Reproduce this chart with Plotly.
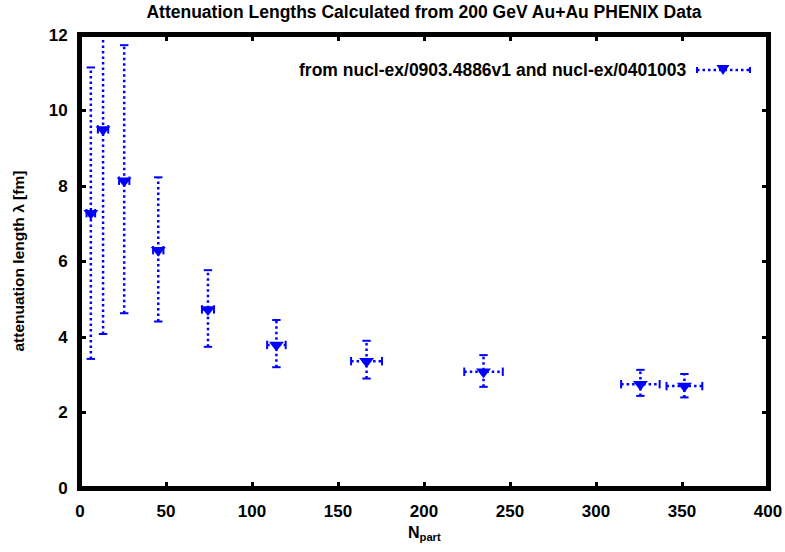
import plotly.graph_objects as go

# Data
npart = [6.3, 13.4, 25.7, 45.5, 74.4, 114.2, 166.6, 234.6, 325.8, 351.4]
npart_err = [2.5, 3.0, 3.0, 3.0, 3.5, 5.4, 9.0, 11.2, 11.2, 10.4]
lam = [7.28, 9.50, 8.14, 6.30, 4.73, 3.79, 3.36, 3.08, 2.75, 2.70]
lam_err_hi = [3.86, 5.42, 3.59, 1.93, 1.04, 0.66, 0.54, 0.44, 0.38, 0.32]
lam_err_lo = [3.86, 5.42, 3.51, 1.89, 0.99, 0.59, 0.46, 0.40, 0.31, 0.30]

legend_label = "from nucl-ex/0903.4886v1 and nucl-ex/0401003"
title_text = "Attenuation Lengths Calculated from 200 GeV Au+Au PHENIX Data"
x_ticks = [0, 50, 100, 150, 200, 250, 300, 350, 400]
y_ticks = [0, 2, 4, 6, 8, 10, 12]

BLUE = "#0000ff"
FONT = "Liberation Sans"

# Build dotted error-bar segments from the arrays
vx, vy, hx, hy = [], [], [], []
cap_v_x, cap_v_y, cap_h_x, cap_h_y = [], [], [], []
for x, dx, y, hi, lo in zip(npart, npart_err, lam, lam_err_hi, lam_err_lo):
    vx += [x, x, None]
    vy += [y - lo, y + hi, None]
    hx += [x - dx, x + dx, None]
    hy += [y, y, None]
    cap_v_x += [x, x]
    cap_v_y += [y - lo, y + hi]
    cap_h_x += [x - dx, x + dx]
    cap_h_y += [y, y]

dot = "2.5px,3px"
fig = go.Figure()
fig.add_trace(go.Scatter(x=vx, y=vy, mode="lines", line=dict(color=BLUE, width=2.5, dash=dot),
                         showlegend=False, hoverinfo="skip"))
fig.add_trace(go.Scatter(x=hx, y=hy, mode="lines", line=dict(color=BLUE, width=2.5, dash=dot),
                         showlegend=False, hoverinfo="skip"))
fig.add_trace(go.Scatter(x=cap_v_x, y=cap_v_y, mode="markers", cliponaxis=True,
                         marker=dict(symbol="line-ew", size=6, line=dict(color=BLUE, width=2)),
                         showlegend=False, hoverinfo="skip"))
fig.add_trace(go.Scatter(x=cap_h_x, y=cap_h_y, mode="markers", cliponaxis=True,
                         marker=dict(symbol="line-ns", size=6, line=dict(color=BLUE, width=2)),
                         showlegend=False, hoverinfo="skip"))
fig.add_trace(go.Scatter(x=npart, y=lam, mode="markers", name=legend_label,
                         marker=dict(symbol="triangle-down", size=13, color=BLUE,
                                     line=dict(width=0)),
                         showlegend=False))

W, H = 785, 552
L, R, T, B = 80, 17, 35, 64
pw, ph = W - L - R, H - T - B

def px_x(p):
    return (p - L) / pw

def px_y(p):
    return 1 - (p - T) / ph

axis_common = dict(showline=True, linewidth=3, linecolor="black", mirror="ticks",
                   ticks="inside", ticklen=6, tickwidth=3, tickcolor="black",
                   showgrid=False, zeroline=False, automargin=False,
                   tickfont=dict(family=FONT, size=17, color="black", weight="bold"))

fig.update_layout(
    width=W, height=H,
    margin=dict(l=L, r=R, t=T, b=B),
    plot_bgcolor="white", paper_bgcolor="white",
    xaxis=dict(range=[0, 400], tickvals=x_ticks, ticklabelstandoff=6, **axis_common),
    yaxis=dict(range=[0, 12], tickvals=y_ticks, ticklabelstandoff=6, **axis_common),
    title=dict(text=title_text, x=0.5, xref="paper", y=1 - 12 / H, yref="container",
               yanchor="middle", xanchor="center", automargin=False,
               font=dict(family=FONT, size=17.5, color="black", weight="bold")),
    showlegend=False,
)

# thick frame around the plot area
fig.add_shape(type="rect", xref="paper", yref="paper", x0=0, x1=1, y0=0, y1=1,
              line=dict(color="black", width=4), fillcolor="rgba(0,0,0,0)", layer="above")

# axis titles
fig.add_annotation(text="attenuation length λ [fm]", xref="paper", yref="paper",
                   x=px_x(18), y=0.5, textangle=-90, showarrow=False,
                   xanchor="center", yanchor="middle",
                   font=dict(family=FONT, size=15.5, color="black", weight="bold"))
fig.add_annotation(text="N<sub>part</sub>", xref="paper", yref="paper",
                   x=0.5, y=px_y(533), showarrow=False, xanchor="center", yanchor="middle",
                   font=dict(family=FONT, size=16, color="black", weight="bold"))

# manual legend (text right-aligned, sample on the right, gnuplot style)
fig.add_annotation(text=legend_label, xref="paper", yref="paper",
                   x=px_x(688), y=px_y(70), showarrow=False, xanchor="right", yanchor="middle",
                   font=dict(family=FONT, size=17.5, color="black", weight="bold"))
ly = px_y(70)
fig.add_shape(type="line", xref="paper", yref="paper", x0=px_x(697), x1=px_x(750), y0=ly, y1=ly,
              line=dict(color=BLUE, width=2.5, dash=dot))
for xe in (697, 750):
    fig.add_shape(type="line", xref="paper", yref="paper", x0=px_x(xe), x1=px_x(xe),
                  y0=px_y(67), y1=px_y(73), line=dict(color=BLUE, width=2))
fig.add_shape(type="path", xref="paper", yref="paper", xsizemode="pixel", ysizemode="pixel",
              xanchor=px_x(723), yanchor=ly, path="M -6.5 5 L 6.5 5 L 0 -5 Z",
              fillcolor=BLUE, line=dict(width=0))

# remove the default 8px page margin so the figure sits at the window's top-left corner
fig.write_html("out.html", config={"displayModeBar": False},
               post_script="document.body.style.margin='0px';")
